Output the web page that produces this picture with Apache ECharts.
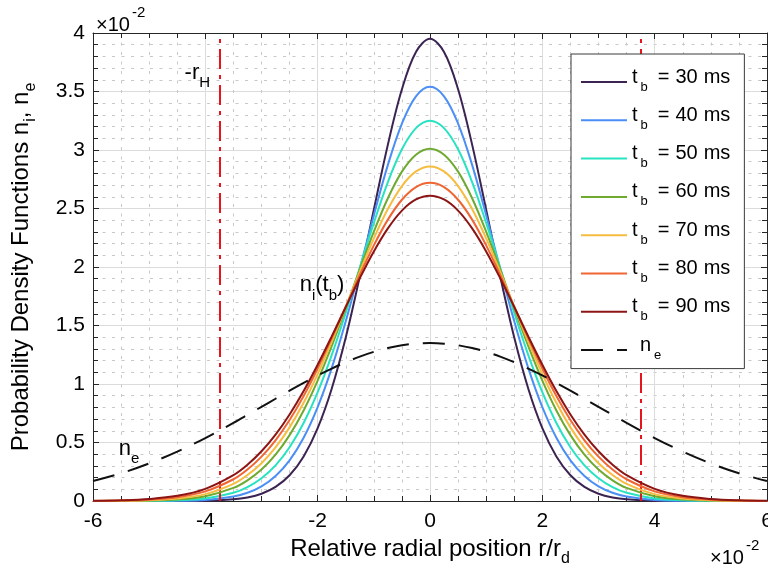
<!DOCTYPE html>
<html>
<head>
<meta charset="utf-8">
<script src="https://cdn.jsdelivr.net/npm/echarts@6/dist/echarts.min.js"></script>
<style>
  html, body { margin: 0; padding: 0; background: #ffffff; }
  #chart { width: 768px; height: 570px; }
</style>
</head>
<body>
<div id="chart"></div>
<script>
// Radial positions r/r_d (x10^-2)
const xs = [-6, -5.5, -5, -4.5, -4, -3.5, -3.25, -3, -2.75, -2.5, -2.25, -2, -1.75, -1.5, -1.25, -1, -0.75, -0.5, -0.25,
            0, 0.25, 0.5, 0.75, 1, 1.25, 1.5, 1.75, 2, 2.25, 2.5, 2.75, 3, 3.25, 3.5, 4, 4.5, 5, 5.5, 6];

// Ion PDFs n_i(t_b) (x10^-2) for each beam time
const ni30 = [0, 0, 0, 0.0003, 0.002, 0.014, 0.030, 0.062, 0.120, 0.220, 0.381, 0.623, 0.960, 1.397, 1.919, 2.489, 3.046, 3.519, 3.838,
              3.950, 3.838, 3.519, 3.046, 2.489, 1.919, 1.397, 0.960, 0.623, 0.381, 0.220, 0.120, 0.062, 0.030, 0.014, 0.002, 0.0003, 0, 0, 0];
const ni40 = [0, 0, 0.0003, 0.002, 0.009, 0.038, 0.070, 0.125, 0.214, 0.348, 0.541, 0.803, 1.136, 1.536, 1.982, 2.443, 2.873, 3.226, 3.459,
              3.540, 3.459, 3.226, 2.873, 2.443, 1.982, 1.536, 1.136, 0.803, 0.541, 0.348, 0.214, 0.125, 0.070, 0.038, 0.009, 0.002, 0.0003, 0, 0];
const ni50 = [0, 0.0003, 0.001, 0.006, 0.022, 0.070, 0.119, 0.195, 0.305, 0.460, 0.667, 0.930, 1.247, 1.608, 1.994, 2.377, 2.726, 3.006, 3.187,
              3.250, 3.187, 3.006, 2.726, 2.377, 1.994, 1.608, 1.247, 0.930, 0.667, 0.460, 0.305, 0.195, 0.119, 0.070, 0.022, 0.006, 0.001, 0.0003, 0];
const ni60 = [0.0002, 0.001, 0.004, 0.013, 0.041, 0.112, 0.177, 0.269, 0.396, 0.563, 0.774, 1.029, 1.323, 1.646, 1.979, 2.302, 2.588, 2.815, 2.960,
              3.010, 2.960, 2.815, 2.588, 2.302, 1.979, 1.646, 1.323, 1.029, 0.774, 0.563, 0.396, 0.269, 0.177, 0.112, 0.041, 0.013, 0.004, 0.001, 0.0002];
const ni70 = [0.0005, 0.002, 0.007, 0.021, 0.059, 0.147, 0.222, 0.323, 0.458, 0.629, 0.839, 1.085, 1.362, 1.659, 1.959, 2.245, 2.496, 2.692, 2.817,
              2.860, 2.817, 2.692, 2.496, 2.245, 1.959, 1.659, 1.362, 1.085, 0.839, 0.629, 0.458, 0.323, 0.222, 0.147, 0.059, 0.021, 0.007, 0.002, 0.0005];
const ni80 = [0.001, 0.004, 0.011, 0.032, 0.082, 0.186, 0.269, 0.379, 0.519, 0.692, 0.897, 1.132, 1.391, 1.661, 1.932, 2.185, 2.405, 2.575, 2.683,
              2.720, 2.683, 2.575, 2.405, 2.185, 1.932, 1.661, 1.391, 1.132, 0.897, 0.692, 0.519, 0.379, 0.269, 0.186, 0.082, 0.032, 0.011, 0.004, 0.001];
const ni90 = [0.002, 0.006, 0.017, 0.044, 0.104, 0.221, 0.310, 0.425, 0.568, 0.740, 0.940, 1.165, 1.407, 1.658, 1.904, 2.133, 2.330, 2.482, 2.577,
              2.610, 2.577, 2.482, 2.330, 2.133, 1.904, 1.658, 1.407, 1.165, 0.940, 0.740, 0.568, 0.425, 0.310, 0.221, 0.104, 0.044, 0.017, 0.006, 0.002];
// Electron PDF n_e (x10^-2)
const neVals = [0.171, 0.237, 0.321, 0.422, 0.538, 0.668, 0.736, 0.805, 0.874, 0.943, 1.009, 1.073, 1.132, 1.186, 1.234, 1.275, 1.307, 1.331, 1.345,
                1.350, 1.345, 1.331, 1.307, 1.275, 1.234, 1.186, 1.132, 1.073, 1.009, 0.943, 0.874, 0.805, 0.736, 0.668, 0.538, 0.422, 0.321, 0.237, 0.171];

const beamTimes = [30, 40, 50, 60, 70, 80, 90];           // ms
const niSets = [ni30, ni40, ni50, ni60, ni70, ni80, ni90];
const rH = 3.75;                                          // hole radius marker (x10^-2)
const xRange = [-6, 6];
const yRange = [0, 4];
const xStep = 2;
const yStep = 0.5;

const niColors = ['#3b2452', '#4a8ef6', '#28e3c2', '#6daa2f', '#f6bd40', '#ef6632', '#8c1414'];
const neColor = '#111111';
const FONT = '"Liberation Sans", Arial, Helvetica, sans-serif';
const AX = '#262626';

function subRich(main, sub, shift) {
  return {
    m: { fontFamily: FONT, fontSize: main, color: '#000', padding: [0, 0, shift, 0] },
    s: { fontFamily: FONT, fontSize: sub, color: '#000', padding: [shift, 0, 0, 0] }
  };
}

const names = beamTimes.map(t => 't_b = ' + t + ' ms').concat(['n_e']);

const series = niSets.map((arr, i) => ({
  name: names[i],
  type: 'line',
  data: xs.map((x, j) => [x, arr[j]]),
  smooth: 0.35,
  symbol: 'none',
  lineStyle: { width: 2, color: niColors[i] },
  itemStyle: { color: niColors[i] },
  emphasis: { disabled: true },
  z: 2 + i
}));

series.push({
  name: 'n_e',
  type: 'line',
  data: xs.map((x, j) => [x, neVals[j]]),
  smooth: 0.35,
  symbol: 'none',
  lineStyle: { width: 2, color: neColor, type: [22, 14] },
  itemStyle: { color: neColor },
  emphasis: { disabled: true },
  z: 10,
  markLine: {
    silent: true,
    symbol: ['none', 'none'],
    label: { show: false },
    lineStyle: { color: '#e8141c', width: 2, type: [20, 6, 4, 6] },
    emphasis: { disabled: true },
    data: [{ xAxis: -rH }, { xAxis: rH }]
  }
});

const tickCommon = { show: true, inside: true, length: 6, lineStyle: { color: AX, width: 1 } };
const minorCommon = { show: true, length: 5, lineStyle: { color: AX, width: 1 } };
const minorGrid = { show: true, lineStyle: { color: '#c8c8c8', width: 1, type: [3, 6.5] } };

// Legend label pieces: t, subscript b, spaced "=", value, unit
const legendRich = {
  m: { fontFamily: FONT, fontSize: 20, color: '#000', padding: [0, 0, 10, 0] },
  n: { fontFamily: FONT, fontSize: 20, color: '#000', padding: [0, 0, 10, 8] },
  s: { fontFamily: FONT, fontSize: 13, color: '#000', padding: [10, 0, 0, 3] },
  e: { fontFamily: FONT, fontSize: 20, color: '#000', padding: [0, 6, 10, 10] },
  u: { fontFamily: FONT, fontSize: 20, color: '#000', padding: [0, 0, 10, 6] }
};

const chart = echarts.init(document.getElementById('chart'), null, { renderer: 'canvas' });

chart.setOption({
  animation: false,
  backgroundColor: '#ffffff',
  textStyle: { fontFamily: FONT },
  grid: { left: 93, right: 1, top: 33, bottom: 69, containLabel: false, outerBoundsMode: 'none' },
  legend: {
    orient: 'vertical',
    left: 571,
    top: 54,
    padding: [13, 14, 7, 9],
    itemWidth: 46,
    itemHeight: 14,
    itemGap: 11.8,
    backgroundColor: '#ffffff',
    borderColor: '#3a3a3a',
    borderWidth: 1,
    borderRadius: 0,
    selectedMode: false,
    itemStyle: { opacity: 0, borderWidth: 0 },
    data: names,
    formatter: function (name) {
      if (name === 'n_e') return '{n|n}{s|e}';
      const parts = name.split(' ');           // ['t_b', '=', '30', 'ms']
      return '{m|t}{s|b}{e|=}{m|' + parts[2] + '}{u|' + parts[3] + '}';
    },
    textStyle: { rich: legendRich },
    z: 20
  },
  xAxis: [{
    type: 'value', min: xRange[0], max: xRange[1], interval: xStep, position: 'bottom',
    axisLine: { show: true, onZero: false, lineStyle: { color: AX, width: 1 } },
    axisTick: tickCommon,
    minorTick: Object.assign({ splitNumber: 4 }, minorCommon),
    splitLine: { show: true, lineStyle: { color: '#dcdcdc', width: 1 } },
    minorSplitLine: minorGrid,
    axisLabel: { fontSize: 21, color: '#000', margin: 10, fontFamily: FONT },
    name: '{m|Relative radial position r/r}{s|d}',
    nameLocation: 'middle',
    nameGap: 33,
    nameTextStyle: { rich: subRich(24, 16, 10) }
  }, {
    type: 'value', min: xRange[0], max: xRange[1], interval: xStep, position: 'top',
    axisLine: { show: true, onZero: false, lineStyle: { color: AX, width: 1 } },
    axisTick: tickCommon,
    minorTick: Object.assign({ splitNumber: 4 }, minorCommon),
    splitLine: { show: false },
    axisLabel: { show: false }
  }],
  yAxis: [{
    type: 'value', min: yRange[0], max: yRange[1], interval: yStep, position: 'left',
    axisLine: { show: true, onZero: false, lineStyle: { color: AX, width: 1 } },
    axisTick: tickCommon,
    minorTick: Object.assign({ splitNumber: 5 }, minorCommon),
    splitLine: { show: true, lineStyle: { color: '#dcdcdc', width: 1 } },
    minorSplitLine: minorGrid,
    axisLabel: { fontSize: 21, color: '#000', margin: 8, fontFamily: FONT },
    name: '{m|Probability Density Functions n}{s|i}{m|, n}{s|e}',
    nameLocation: 'middle',
    nameRotate: 90,
    nameGap: 50,
    nameTextStyle: { rich: subRich(24, 16, 10) }
  }, {
    type: 'value', min: yRange[0], max: yRange[1], interval: yStep, position: 'right',
    axisLine: { show: true, onZero: false, lineStyle: { color: AX, width: 1 } },
    axisTick: tickCommon,
    minorTick: Object.assign({ splitNumber: 5 }, minorCommon),
    splitLine: { show: false },
    axisLabel: { show: false }
  }],
  series: series
});

// Text annotations, anchored in data coordinates
const notes = [
  { at: [-4.37, 3.615], text: '{m|-r}{s|H}' },
  { at: [-2.32, 1.80], text: '{m|n}{s|i}{m|(t}{s|b}{m|)}' },
  { at: [-5.54, 0.406], text: '{m|n}{s|e}' }
];
const toPx = p => chart.convertToPixel({ seriesIndex: 0 }, p);

const graphics = notes.map(n => {
  const p = toPx(n.at);
  return {
    type: 'text', x: p[0], y: p[1], z: 30, silent: true,
    style: { text: n.text, align: 'left', verticalAlign: 'middle', rich: subRich(22, 15, 10) }
  };
});

// Axis scale factors
const expRich = {
  m: { fontFamily: FONT, fontSize: 20, color: '#000', padding: [12, 0, 0, 0] },
  p: { fontFamily: FONT, fontSize: 15, color: '#000', padding: [0, 0, 12, 2] }
};
const corner = toPx([xRange[0], yRange[1]]);
graphics.push({
  type: 'text', x: corner[0] + 3, y: corner[1] - 14, z: 30, silent: true,
  style: { text: '{m|\u00d710}{p|-2}', align: 'left', verticalAlign: 'middle', rich: expRich }
});
const corner2 = toPx([xRange[1], yRange[0]]);
graphics.push({
  type: 'text', x: corner2[0] - 57, y: corner2[1] + 51, z: 30, silent: true,
  style: { text: '{m|\u00d710}{p|-2}', align: 'left', verticalAlign: 'middle', rich: expRich }
});

chart.setOption({ graphic: graphics });
</script>
</body>
</html>
